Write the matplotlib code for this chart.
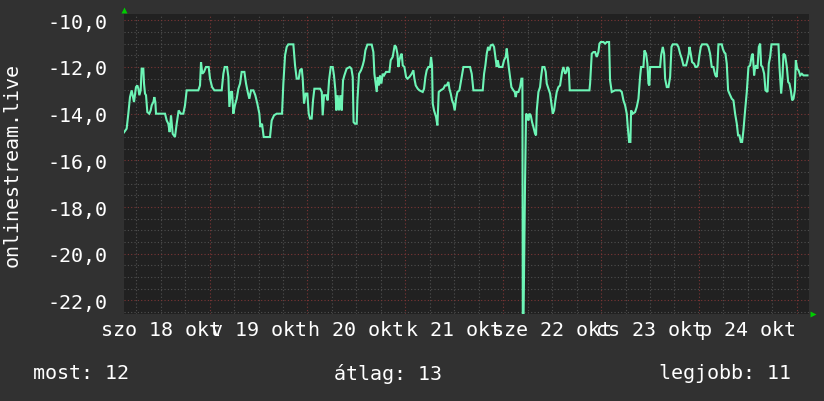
import matplotlib
matplotlib.use("Agg")
import matplotlib.pyplot as plt
from matplotlib.ticker import MultipleLocator, FixedLocator

# hours since the start of the graph (Sat 18 Oct 03:00) and the readings
hours = [
    0.0, 0.65, 1.06, 1.47, 1.88, 2.45, 2.94, 3.27, 3.52, 3.76, 4.09, 4.33, 4.74, 4.91,
    5.15, 5.40, 5.72, 6.21, 6.54, 6.79, 7.2, 7.44, 7.69, 7.85, 10.06, 10.47, 10.87,
    11.2, 11.53, 11.94, 12.5, 12.92, 13.41, 13.9, 14.55, 14.96, 15.37, 18.23, 18.64,
    18.89, 19.2, 19.62, 20.1, 20.77, 21.1, 21.6, 22.16, 23.96, 24.37, 24.7, 25.27,
    25.6, 25.84, 26.25, 26.5, 26.82, 27.2, 27.64, 28.05, 28.46, 28.86, 29.52, 29.93,
    30.34, 30.74, 31.15, 31.73, 32.2, 32.7, 33.2, 33.44, 33.85, 34.26, 35.81, 36.22,
    36.8, 37.45, 38.76, 39.08, 39.5, 39.9, 40.3, 41.54, 41.95, 42.35, 42.85, 43.17,
    43.6, 43.83, 44.15, 44.56, 44.97, 45.3, 45.62, 46.03, 46.36, 46.69, 48.08, 48.5,
    48.73, 49.06, 49.63, 49.96, 50.29, 50.7, 51.19, 51.5, 51.84, 52.08, 52.4, 52.74,
    53.07, 53.4, 53.72, 54.05, 54.6, 55.36, 55.77, 56.1, 56.3, 56.66, 57.07, 57.24,
    57.65, 58.14, 58.55, 58.87, 59.2, 59.69, 60.75, 61.16, 61.41, 61.73, 61.98, 62.22,
    62.55, 62.8, 63.12, 63.45, 63.78, 64.27, 65.09, 65.41, 65.9, 66.39, 66.72, 67.05,
    67.3, 67.54, 67.87, 68.11, 68.36, 68.77, 69.18, 69.5, 69.99, 70.56, 70.97, 71.22,
    71.55, 72.04, 72.45, 73.26, 73.59, 73.92, 74.24, 74.65, 75.06, 75.31, 75.55, 75.72,
    76.04, 76.29, 76.53, 76.86, 77.19, 77.68, 78.33, 78.74, 79.15, 79.56, 79.8, 80.13,
    80.46, 80.79, 81.11, 81.44, 81.77, 82.26, 82.83, 83.24, 84.87, 85.28, 85.69, 87.98,
    88.31, 88.63, 88.96, 89.29, 89.62, 89.94, 90.43, 90.76, 91.09, 91.41, 91.66, 91.99,
    92.8, 93.21, 93.62, 93.87, 94.19, 94.36, 94.68, 95.01, 95.5, 95.83, 96.07, 96.32,
    96.73, 97.14, 97.47, 97.71, 97.8, 98.0, 98.36, 98.6, 98.94, 99.18, 99.43, 99.75,
    100.08, 100.41, 100.82, 101.06, 101.23, 101.64, 102.04, 102.29, 102.62, 103.11,
    103.43, 103.68, 104.09, 104.5, 104.82, 105.15, 105.48, 105.81, 106.13, 106.54,
    106.95, 107.44, 107.77, 108.18, 108.5, 108.75, 109.08, 109.32, 114.15, 114.31,
    114.72, 115.13, 115.54, 115.94, 116.35, 116.6, 116.93, 117.58, 117.99, 118.4,
    118.97, 119.21, 119.62, 120.44, 121.67, 122.08, 122.49, 122.9, 123.3, 123.55,
    123.88, 124.2, 124.37, 124.78, 125.35, 125.76, 126.17, 126.57, 126.82, 127.39,
    127.64, 128.05, 128.37, 128.62, 128.86, 129.03, 131.48, 131.73, 132.14, 132.47,
    132.71, 133.12, 133.53, 133.94, 134.27, 134.59, 135.57, 135.98, 136.39, 136.8,
    137.2, 137.86, 138.18, 138.51, 138.68, 139.0, 139.33, 139.82, 140.15, 140.47,
    140.8, 141.13, 141.46, 141.78, 142.93, 143.34, 143.74, 144.15, 144.56, 144.81,
    145.05, 145.38, 145.54, 145.79, 146.61, 146.85, 147.18, 147.51, 147.83, 148.16,
    148.49, 149.06, 149.47, 149.88, 150.29, 150.61, 150.94, 151.27, 151.6, 151.92,
    152.33, 152.74, 153.15, 153.56, 153.97, 154.22, 154.54, 154.79, 155.03, 155.36,
    155.69, 156.02, 156.26, 156.59, 157.0, 157.33, 157.82, 158.14, 158.47, 158.8,
    160.51, 160.76, 160.92, 161.17, 161.5, 161.74, 162.15, 162.56, 162.89, 163.21,
    163.54, 163.87, 164.2, 164.53, 164.77, 165.1, 165.43, 165.84, 166.24, 166.65,
    167.63,
]
values = [
    -14.8, -14.64, -14.0, -13.29, -13.0, -13.5, -12.86, -12.79, -12.93, -13.21, -13.0,
    -12.07, -12.07, -12.71, -13.14, -13.21, -13.93, -14.0, -13.86, -13.64, -13.5,
    -13.29, -13.5, -14.0, -14.0, -14.29, -14.43, -14.79, -14.07, -14.86, -15.0,
    -14.43, -13.86, -14.0, -14.0, -13.64, -13.0, -13.0, -12.79, -11.79, -12.29,
    -12.21, -12.0, -12.0, -12.5, -12.86, -13.0, -13.0, -12.29, -12.0, -12.0, -12.43,
    -13.71, -13.07, -13.07, -14.0, -13.64, -13.36, -12.93, -12.71, -12.21, -12.21,
    -12.71, -13.07, -13.36, -13.0, -13.0, -13.21, -13.57, -14.0, -14.57, -14.43,
    -15.0, -15.0, -14.29, -14.07, -14.0, -14.0, -12.71, -11.5, -11.14, -11.03,
    -11.03, -11.93, -12.5, -12.5, -12.14, -12.07, -12.5, -13.57, -13.14, -13.14,
    -14.0, -14.21, -14.21, -13.43, -12.93, -12.93, -13.07, -14.07, -13.21, -13.21,
    -13.43, -12.57, -12.0, -12.0, -12.36, -13.0, -13.86, -13.21, -13.86, -13.21,
    -13.86, -12.57, -12.36, -12.07, -12.0, -12.07, -12.43, -14.36, -14.43, -14.43,
    -13.43, -12.29, -12.14, -11.93, -11.71, -11.29, -11.04, -11.04, -11.36, -12.29,
    -12.71, -13.07, -12.43, -12.79, -12.36, -12.71, -12.29, -12.36, -12.21, -12.21,
    -11.71, -11.57, -11.07, -11.14, -11.43, -12.0, -11.71, -11.5, -11.43, -11.93,
    -12.0, -12.43, -12.5, -12.43, -12.29, -12.14, -12.5, -12.79, -12.93, -13.0,
    -13.07, -12.93, -12.43, -12.14, -12.0, -12.0, -11.57, -11.93, -13.57, -13.86,
    -14.0, -14.14, -14.5, -13.07, -13.0, -12.93, -12.79, -12.79, -12.64, -12.93,
    -13.14, -13.43, -13.57, -13.86, -13.36, -13.07, -13.0, -12.43, -12.0, -12.0,
    -12.29, -13.0, -13.0, -12.29, -11.93, -11.43, -11.14, -11.29, -11.07, -11.04,
    -11.14, -11.57, -12.0, -11.71, -12.0, -12.0, -11.71, -11.57, -11.21, -11.71,
    -12.0, -12.43, -12.86, -13.0, -13.07, -13.29, -13.07, -13.07, -12.86, -12.5,
    -12.5, -22.6, -22.6, -16.9, -14.0, -14.07, -14.29, -14.0, -14.07, -14.36, -14.57,
    -14.86, -14.93, -13.86, -13.07, -12.86, -12.43, -12.0, -12.0, -12.21, -12.71,
    -12.93, -13.14, -13.57, -14.0, -13.86, -13.43, -13.07, -12.86, -12.79, -12.21,
    -12.0, -12.29, -12.21, -12.0, -12.07, -13.0, -13.0, -12.71, -11.43, -11.36,
    -11.36, -11.57, -11.36, -11.0, -10.93, -10.93, -11.0, -10.93, -10.93, -12.57,
    -13.07, -13.0, -13.0, -13.07, -13.43, -13.64, -14.0, -14.57, -15.21, -15.21,
    -13.86, -14.0, -13.93, -13.71, -13.36, -12.43, -12.0, -12.0, -11.29, -11.43,
    -11.86, -12.71, -12.79, -12.0, -12.0, -11.5, -11.14, -11.43, -12.5, -12.86,
    -12.86, -12.43, -11.14, -11.03, -11.03, -11.14, -11.43, -11.64, -11.93, -11.93,
    -11.71, -11.43, -11.14, -11.43, -11.79, -11.86, -12.0, -12.0, -11.93, -11.5,
    -11.14, -11.03, -11.03, -11.14, -11.43, -12.0, -12.0, -12.21, -12.36, -12.43,
    -12.0, -11.03, -11.03, -11.21, -11.36, -11.43, -11.86, -13.0, -13.14, -13.36,
    -13.43, -14.0, -14.43, -14.93, -14.93, -15.21, -15.21, -14.71, -13.86, -13.07,
    -12.0, -11.93, -11.5, -11.43, -12.36, -12.0, -11.93, -12.07, -11.14, -11.0,
    -11.93, -12.0, -12.29, -13.0, -13.07, -11.86, -11.57, -11.03, -11.03, -12.0,
    -12.43, -13.14, -12.43, -11.43, -11.5, -12.0, -12.64, -12.71, -13.0, -13.43,
    -13.36, -13.0, -11.71, -12.07, -12.14, -12.36, -12.29, -12.36, -12.36,
]

day_labels = ["szo 18 okt", "v 19 okt", "h 20 okt", "k 21 okt",
              "sze 22 okt", "cs 23 okt", "p 24 okt"]
label_hours = [9, 33, 57, 81, 105, 129, 153]   # noon of each day
stat_names = ["most", "átlag", "legjobb"]
stat_values = [12, 13, 11]

plt.rcParams['font.family'] = ['DejaVu Sans Mono']
fs = 14.4
bg = '#313131'
plotbg = '#212121'

fig = plt.figure(figsize=(8.24, 4.02), dpi=100, facecolor=bg)
ax = fig.add_axes([124/824, 1 - 315/402, 685/824, 300/402])
ax.set_facecolor(plotbg)

ax.set_xlim(0, 168)
ax.set_ylim(-22.58, -9.73)

# grid: gray every 6 h / 0.5, red at midnight / every 2
ax.xaxis.set_major_locator(FixedLocator([21 + 24 * i for i in range(7)]))
ax.xaxis.set_minor_locator(MultipleLocator(6, offset=3))
ax.yaxis.set_major_locator(MultipleLocator(2))
ax.yaxis.set_minor_locator(MultipleLocator(0.5))
ax.grid(which='minor', color='#4f4f4f', linestyle=(0, (1, 2)), linewidth=0.8)
ax.grid(which='major', color='#7c3636', linestyle=(0, (1, 2)), linewidth=0.8)
ax.set_axisbelow(True)

ax.set_xticklabels([])
ax.set_yticks([-10, -12, -14, -16, -18, -20, -22])
ax.set_yticklabels([f"{v:.1f}".replace('.', ',') for v in ax.get_yticks()])
ax.tick_params(axis='both', which='both', length=0, colors='white', labelsize=fs)
ax.tick_params(axis='y', pad=12)
for s in ax.spines.values():
    s.set_visible(False)

ax.plot(hours, values, color='#6df5b6', linewidth=1.5, solid_joinstyle='miter')

for lab, h in zip(day_labels, label_hours):
    ax.text(h, -16 / 300, lab, transform=ax.get_xaxis_transform(),
            ha='center', va='center', color='white', fontsize=fs)

# axis arrows
ax.plot([0], [1.013], marker='^', ms=4.5, color='#00cc00', mec='none',
        transform=ax.transAxes, clip_on=False)
ax.plot([1.006], [0], marker='>', ms=4.5, color='#00cc00', mec='none',
        transform=ax.transAxes, clip_on=False)

fig.text(12/824, 1 - 165/402, 'onlinestream.live', rotation=90, color='white',
         fontsize=fs, ha='center', va='center')

fig.text(33/824, 1 - 374/402, f"{stat_names[0]}: {stat_values[0]}", color='white',
         fontsize=fs, ha='left', va='center')
fig.text(334/824, 1 - 374/402, f"{stat_names[1]}: {stat_values[1]}", color='white',
         fontsize=fs, ha='left', va='center')
fig.text(791/824, 1 - 374/402, f"{stat_names[2]}: {stat_values[2]}", color='white',
         fontsize=fs, ha='right', va='center')

fig.savefig('out.png', dpi=100, facecolor=bg)
